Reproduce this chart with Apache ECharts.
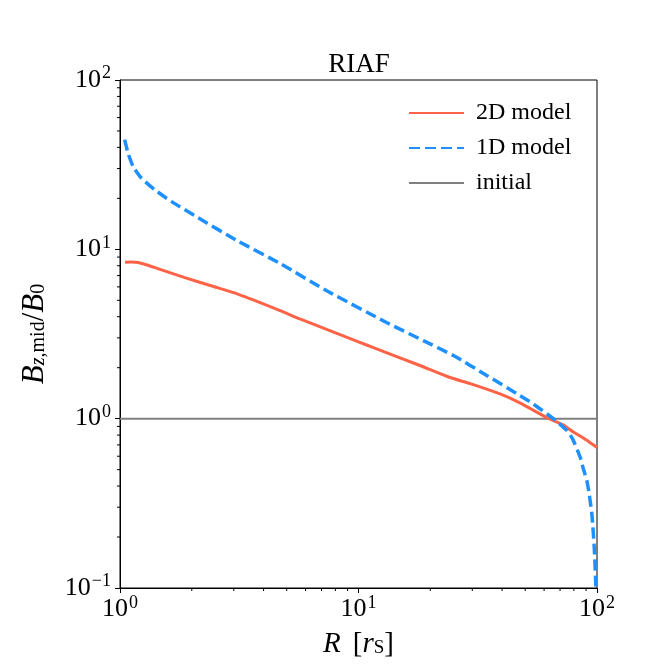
<!DOCTYPE html>
<html>
<head>
<meta charset="utf-8">
<script src="https://cdn.jsdelivr.net/npm/echarts@6/dist/echarts.min.js"></script>
<style>html,body{margin:0;padding:0;background:#fff}#c{width:664px;height:664px}</style>
</head>
<body>
<div id="c"></div>
<script>
const titleText = 'RIAF';
const legendNames = ['2D model', '1D model', 'initial'];
const xTicks = [1, 10, 100];
const yTicks = [0.1, 1, 10, 100];
const xMinor = [2,3,4,5,6,7,8,9,20,30,40,50,60,70,80,90];
const yMinor = [0.2,0.3,0.4,0.5,0.6,0.7,0.8,0.9,2,3,4,5,6,7,8,9,20,30,40,50,60,70,80,90];

const xRed = [1.05, 1.12, 1.19, 1.3, 1.44, 1.87, 2.41, 3.12, 4.69, 5.68, 7, 10, 11.7, 18.1, 24.2, 29.4, 39.2, 47.5, 62, 72, 79.6, 90, 100];
const yRed = [8.4, 8.42, 8.35, 8.08, 7.7, 6.81, 6.09, 5.44, 4.35, 3.88, 3.46, 2.84, 2.61, 2.06, 1.75, 1.61, 1.40, 1.24, 1.01, 0.92, 0.835, 0.75, 0.675];

const xBlue = [1.046, 1.08, 1.134, 1.229, 1.397, 1.64, 2.12, 3.12, 4.69, 7.36, 13.1, 18.7, 25, 34.5, 47.5, 54.1, 65.6, 74.6, 79, 84.9, 87.5, 90.8, 93, 95.3, 97.4, 98.7, 99.3];
const yBlue = [44.4, 37.1, 30.9, 26.4, 22.5, 19.2, 15.4, 11.2, 8.25, 5.69, 3.7, 2.89, 2.36, 1.80, 1.37, 1.22, 1.0, 0.854, 0.76, 0.595, 0.51, 0.426, 0.35, 0.268, 0.172, 0.11, 0.08];

const xInit = [1, 100];
const yInit = [1, 1];

const FONT = 'Liberation Serif';
const zip = (a, b) => a.map((v, i) => [v, b[i]]);
const expFmt = v => {
  const e = Math.round(Math.log10(v));
  return '{b|10}{s|' + (e < 0 ? '\u2212' + (-e) : e) + '}';
};
const tickRich = {
  b: {fontFamily: FONT, fontSize: 26, color: '#000'},
  s: {fontFamily: FONT, fontSize: 18, color: '#000', padding: [0, 0, 13, 1]}
};

const chart = echarts.init(document.getElementById('c'));
chart.setOption({
  animation: false,
  backgroundColor: '#fff',
  title: {
    text: titleText, left: 354, top: 46, textAlign: 'center',
    textStyle: {fontFamily: FONT, fontSize: 27, fontWeight: 'normal', color: '#000'}
  },
  grid: {left: 120, right: 67, top: 80, bottom: 74, show: true, borderColor: '#000', borderWidth: 1},
  legend: {
    data: legendNames, orient: 'vertical', left: 403, top: 95,
    itemWidth: 55, itemHeight: 14, itemGap: 9,
    itemStyle: {opacity: 0},
    textStyle: {fontFamily: FONT, fontSize: 24, color: '#000', padding: [0, 0, 0, 7], lineHeight: 26}
  },
  xAxis: {
    type: 'log', logBase: 10, min: 1, max: 100, interval: 1,
    axisLine: {lineStyle: {color: '#000', width: 1}},
    axisTick: {inside: false, length: 5, lineStyle: {color: '#000', width: 1}},
    splitLine: {show: false},
    axisLabel: {formatter: expFmt, rich: tickRich, margin: 6},
    name: '{i|R}{sp| }{r|[}{i|r}{sub|S}{r|]}', nameLocation: 'middle', nameGap: 42,
    nameTextStyle: {rich: {
      i: {fontFamily: FONT, fontStyle: 'italic', fontSize: 29, color: '#000'},
      r: {fontFamily: FONT, fontSize: 29, color: '#000'},
      sp: {fontFamily: FONT, fontSize: 29, width: 12},
      sub: {fontFamily: FONT, fontSize: 19, color: '#000', padding: [8, 0, 0, 0]}
    }}
  },
  yAxis: {
    type: 'log', logBase: 10, min: 0.1, max: 100, interval: 1,
    axisLine: {lineStyle: {color: '#000', width: 1}},
    axisTick: {inside: false, length: 5, lineStyle: {color: '#000', width: 1}},
    splitLine: {show: false},
    axisLabel: {formatter: expFmt, rich: tickRich, margin: 9},
    name: '{i|B}{si|z}{sr|,mid}{r|/}{i|B}{sr|0}', nameLocation: 'middle', nameGap: 70, nameRotate: 90,
    nameTextStyle: {rich: {
      i: {fontFamily: FONT, fontStyle: 'italic', fontSize: 31, color: '#000'},
      r: {fontFamily: FONT, fontSize: 31, color: '#000'},
      si: {fontFamily: FONT, fontStyle: 'italic', fontSize: 20, color: '#000', padding: [9, 0, 0, 0]},
      sr: {fontFamily: FONT, fontSize: 20, color: '#000', padding: [9, 0, 0, 0]}
    }}
  },
  series: [
    {
      name: legendNames[0], type: 'line', data: zip(xRed, yRed), showSymbol: false, symbol: 'none', z: 3,
      smooth: 0.2,
      lineStyle: {color: '#FF6347', width: 3}, itemStyle: {color: '#FF6347'}
    },
    {
      name: legendNames[1], type: 'line', data: zip(xBlue, yBlue), showSymbol: false, symbol: 'none', z: 4,
      smooth: 0.2,
      lineStyle: {color: '#1E90FF', width: 3.5, type: [11, 5]}, itemStyle: {color: '#1E90FF'}
    },
    {
      name: legendNames[2], type: 'line', data: zip(xInit, yInit), showSymbol: false, symbol: 'none', z: 2,
      lineStyle: {color: '#808080', width: 2}, itemStyle: {color: '#808080'}
    },
    {
      type: 'custom', silent: true, data: xMinor.map(v => [v, 0.1]),
      renderItem: (p, api) => {
        const c = api.coord([api.value(0), api.value(1)]);
        return {type: 'line', shape: {x1: c[0], y1: c[1], x2: c[0], y2: c[1] + 3}, style: {stroke: '#000', lineWidth: 1}};
      }
    },
    {
      type: 'custom', silent: true, data: yMinor.map(v => [1, v]),
      renderItem: (p, api) => {
        const c = api.coord([api.value(0), api.value(1)]);
        return {type: 'line', shape: {x1: c[0], y1: c[1], x2: c[0] - 3, y2: c[1]}, style: {stroke: '#000', lineWidth: 1}};
      }
    }
  ]
});
</script>
</body>
</html>
